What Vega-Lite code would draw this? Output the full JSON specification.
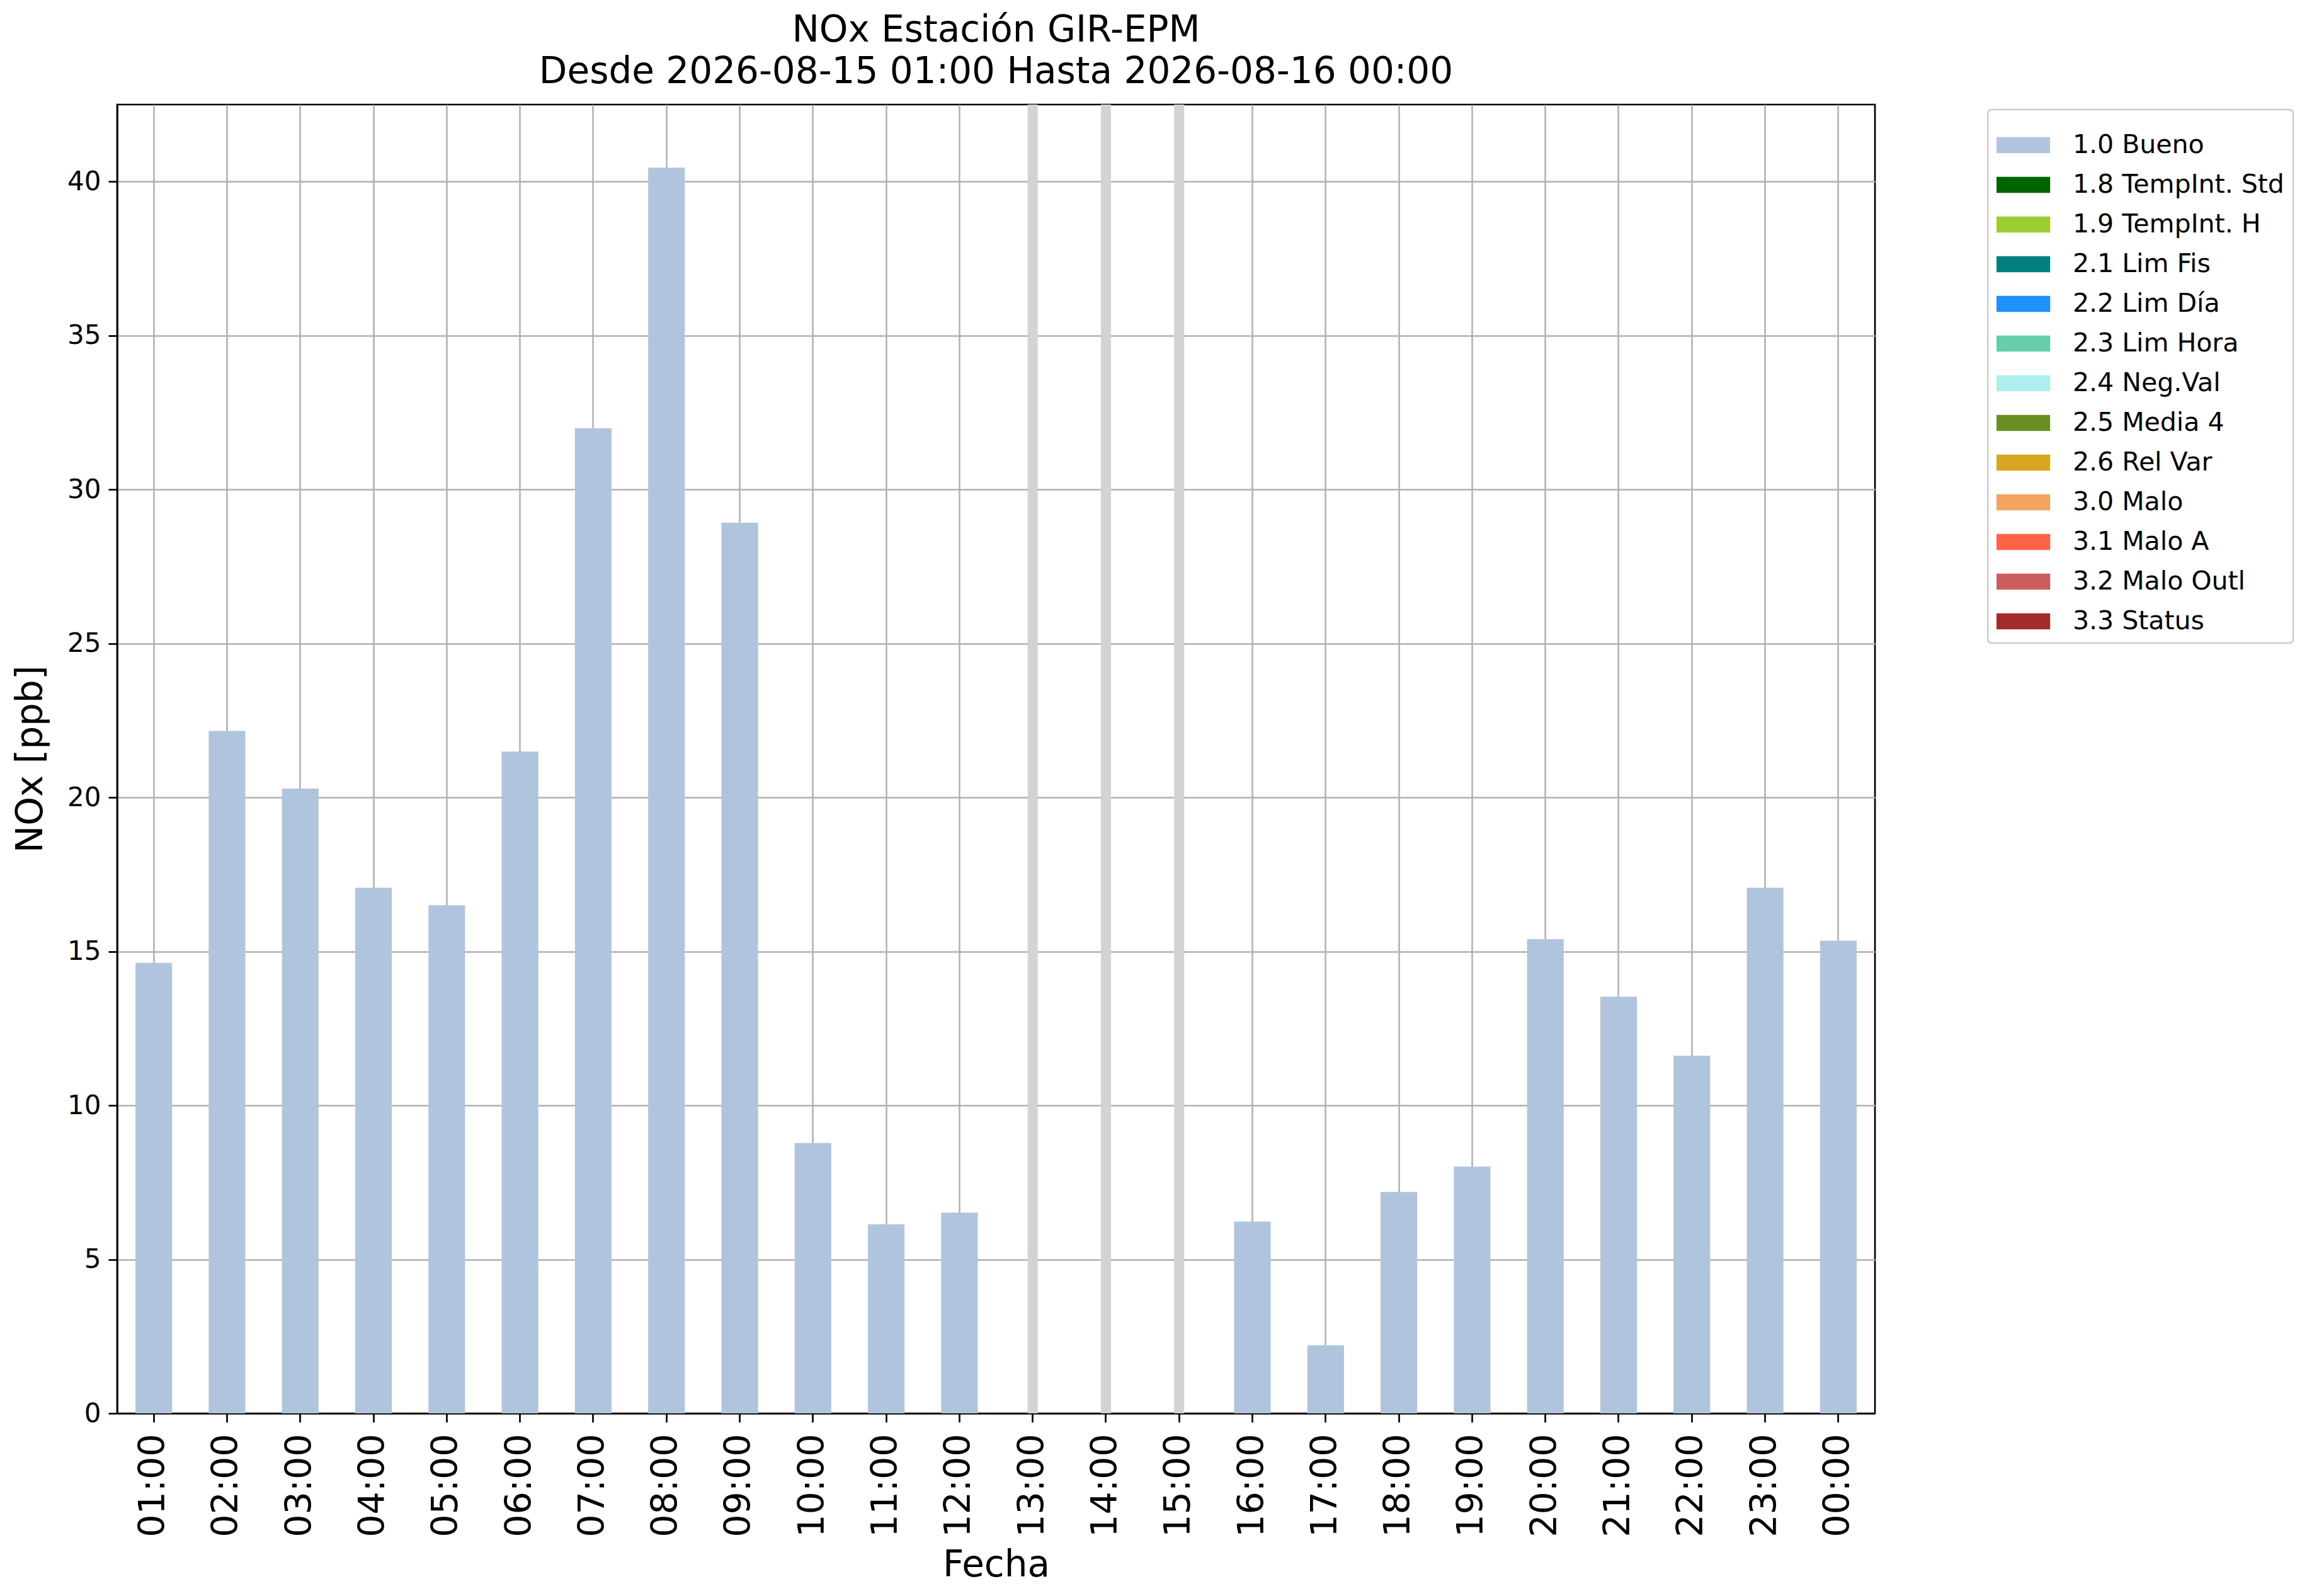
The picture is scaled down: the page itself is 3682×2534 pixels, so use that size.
{
  "$schema": "https://vega.github.io/schema/vega-lite/v6.json",
  "width": 2791,
  "height": 2078,
  "autosize": {"type": "none"},
  "padding": {"left": 186, "top": 166, "right": 705, "bottom": 290},
  "background": "white",
  "config": {
    "font": "DejaVu Sans",
    "view": {"stroke": "black", "strokeWidth": 2.7},
    "axis": {
      "labelFont": "DejaVu Sans",
      "titleFont": "DejaVu Sans",
      "labelColor": "black",
      "titleColor": "black",
      "titleFontWeight": "normal",
      "domainColor": "black",
      "domainWidth": 2.7,
      "tickColor": "black",
      "tickWidth": 2.7,
      "tickSize": 14,
      "gridColor": "#b0b0b0",
      "gridWidth": 2.5,
      "gridOpacity": 1,
      "zindex": 1
    },
    "legend": {
      "labelFont": "DejaVu Sans",
      "labelColor": "black"
    }
  },
  "title": {
    "text": ["NOx Estación GIR-EPM", "Desde 2026-08-15 01:00 Hasta 2026-08-16 00:00"],
    "font": "DejaVu Sans",
    "fontSize": 58,
    "fontWeight": "normal",
    "color": "black",
    "anchor": "middle",
    "frame": "group",
    "lineHeight": 66,
    "offset": 14
  },
  "data": {
    "values": [
      {"hora": "01:00", "nox": 14.63, "flag": "1.0 Bueno"},
      {"hora": "02:00", "nox": 22.16, "flag": "1.0 Bueno"},
      {"hora": "03:00", "nox": 20.29, "flag": "1.0 Bueno"},
      {"hora": "04:00", "nox": 17.07, "flag": "1.0 Bueno"},
      {"hora": "05:00", "nox": 16.5, "flag": "1.0 Bueno"},
      {"hora": "06:00", "nox": 21.49, "flag": "1.0 Bueno"},
      {"hora": "07:00", "nox": 31.99, "flag": "1.0 Bueno"},
      {"hora": "08:00", "nox": 40.45, "flag": "1.0 Bueno"},
      {"hora": "09:00", "nox": 28.92, "flag": "1.0 Bueno"},
      {"hora": "10:00", "nox": 8.78, "flag": "1.0 Bueno"},
      {"hora": "11:00", "nox": 6.14, "flag": "1.0 Bueno"},
      {"hora": "12:00", "nox": 6.52, "flag": "1.0 Bueno"},
      {"hora": "13:00", "nox": null, "flag": "1.0 Bueno"},
      {"hora": "14:00", "nox": null, "flag": "1.0 Bueno"},
      {"hora": "15:00", "nox": null, "flag": "1.0 Bueno"},
      {"hora": "16:00", "nox": 6.23, "flag": "1.0 Bueno"},
      {"hora": "17:00", "nox": 2.21, "flag": "1.0 Bueno"},
      {"hora": "18:00", "nox": 7.19, "flag": "1.0 Bueno"},
      {"hora": "19:00", "nox": 8.01, "flag": "1.0 Bueno"},
      {"hora": "20:00", "nox": 15.4, "flag": "1.0 Bueno"},
      {"hora": "21:00", "nox": 13.53, "flag": "1.0 Bueno"},
      {"hora": "22:00", "nox": 11.61, "flag": "1.0 Bueno"},
      {"hora": "23:00", "nox": 17.07, "flag": "1.0 Bueno"},
      {"hora": "00:00", "nox": 15.35, "flag": "1.0 Bueno"}
    ]
  },
  "encoding": {
    "x": {
      "field": "hora",
      "type": "nominal",
      "title": "Fecha",
      "scale": {
        "domain": ["01:00", "02:00", "03:00", "04:00", "05:00", "06:00", "07:00", "08:00", "09:00", "10:00", "11:00", "12:00", "13:00", "14:00", "15:00", "16:00", "17:00", "18:00", "19:00", "20:00", "21:00", "22:00", "23:00", "00:00"],
        "paddingInner": 0.5,
        "paddingOuter": 0.25
      },
      "axis": {
        "labelAngle": 270,
        "labelFontSize": 57,
        "labelPadding": 18,
        "titleFontSize": 58,
        "titlePadding": 16,
        "grid": true
      }
    }
  },
  "layer": [
    {
      "transform": [{"filter": "datum.nox === null"}],
      "mark": {"type": "rule", "color": "#d3d3d3", "strokeWidth": 16}
    },
    {
      "transform": [{"filter": "datum.nox !== null"}],
      "mark": {"type": "bar"},
      "encoding": {
        "y": {
          "field": "nox",
          "type": "quantitative",
          "title": "NOx [ppb]",
          "scale": {"domain": [0, 42.5], "nice": false, "zero": true},
          "axis": {
            "values": [0, 5, 10, 15, 20, 25, 30, 35, 40],
            "labelFontSize": 42,
            "labelPadding": 12,
            "titleFontSize": 58,
            "titlePadding": 28,
            "grid": true
          }
        },
        "color": {
          "field": "flag",
          "type": "nominal",
          "scale": {
            "domain": ["1.0 Bueno", "1.8 TempInt. Std", "1.9 TempInt. H", "2.1 Lim Fis", "2.2 Lim Día", "2.3 Lim Hora", "2.4 Neg.Val", "2.5 Media 4", "2.6 Rel Var", "3.0 Malo", "3.1 Malo A", "3.2 Malo Outl", "3.3 Status"],
            "range": ["#b0c4de", "#006400", "#9acd32", "#008080", "#1e90ff", "#66cdaa", "#afeeee", "#6b8e23", "#daa520", "#f4a460", "#ff6347", "#cd5c5c", "#a52a2a"]
          },
          "legend": {
            "title": null,
            "orient": "none",
            "legendX": 2970,
            "legendY": 8,
            "symbolType": "M-1,-0.3L1,-0.3L1,0.3L-1,0.3Z",
            "symbolSize": 7225,
            "symbolStrokeWidth": 0,
            "symbolOpacity": 1,
            "labelFontSize": 41,
            "labelLimit": 1000,
            "labelOffset": 36,
            "rowPadding": 0,
            "padding": 14,
            "strokeColor": "#cccccc",
            "cornerRadius": 6,
            "fillColor": "white",
            "encode": {"legend": {"update": {"strokeWidth": {"value": 2.5}}}}
          }
        }
      }
    }
  ]
}
